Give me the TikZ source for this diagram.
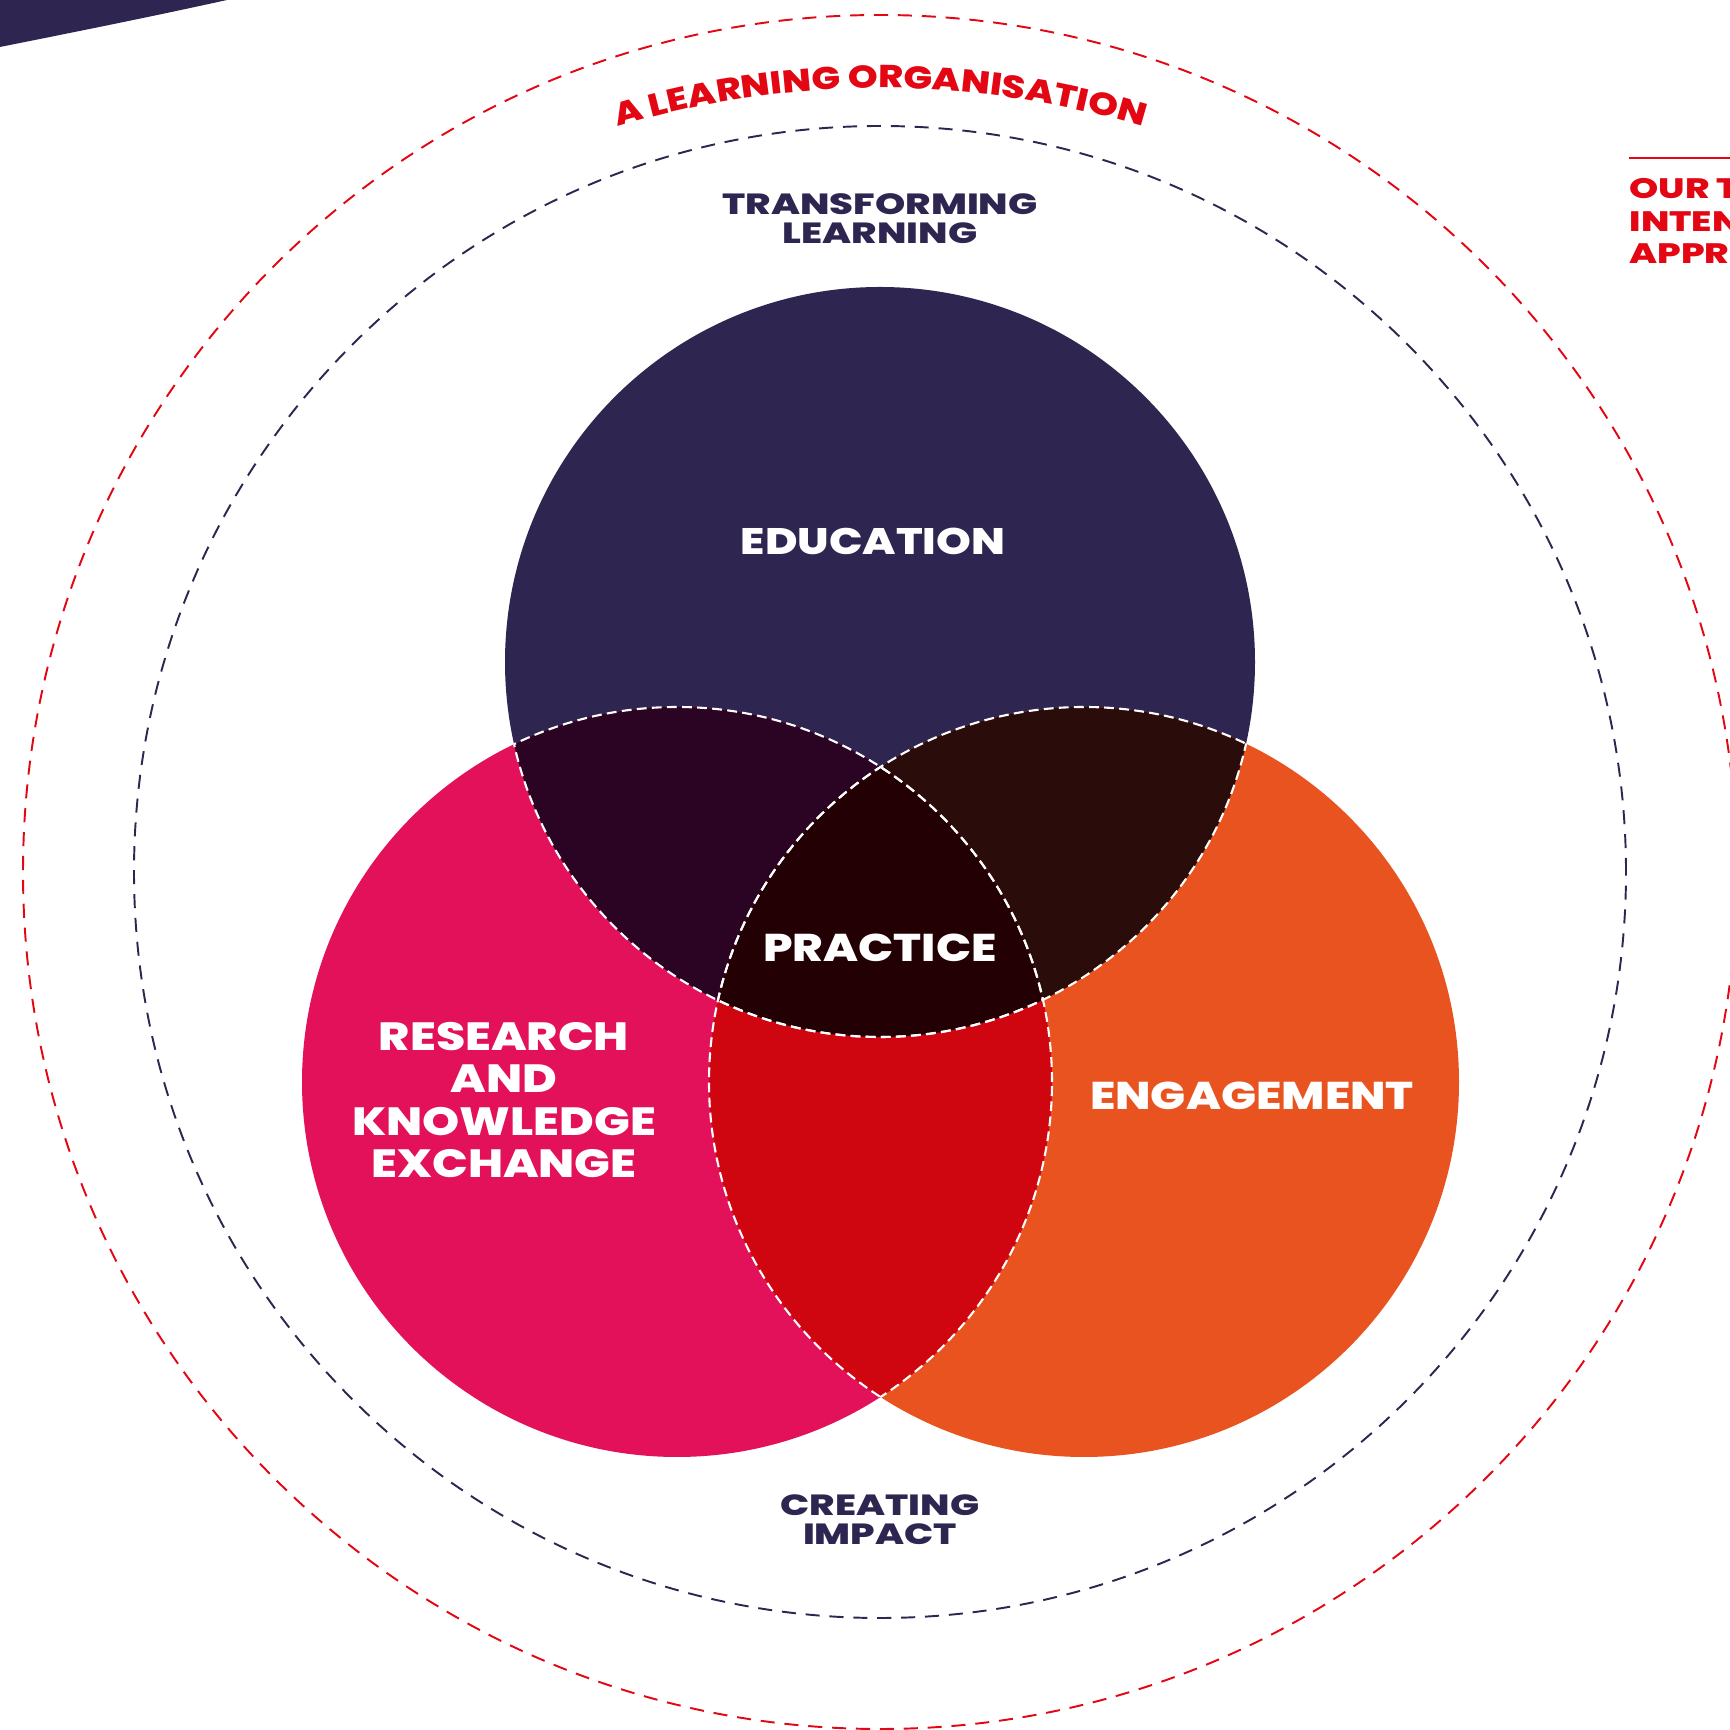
\documentclass[tikz,border=0pt]{standalone}
\usepackage{fontspec}
\usetikzlibrary{decorations.text}
\newfontfamily\widefont{Poppins ExtraBold}[FakeStretch=1.2]
\newfontfamily\widerfont{Poppins ExtraBold}[FakeStretch=1.32]
\definecolor{navy}{HTML}{2E2651}
\definecolor{pinkc}{HTML}{E3105A}
\definecolor{orangec}{HTML}{E8531F}
\definecolor{redc}{HTML}{E30613}
\definecolor{redlap}{HTML}{CF0510}
\definecolor{purlap}{HTML}{2B0323}
\definecolor{brnlap}{HTML}{2A0D0A}
\definecolor{midlap}{HTML}{220003}

\begin{document}
\begin{tikzpicture}[x=0.1mm,y=0.1mm,
    bigtxt/.style={text=white,font=\widefont\fontsize{11}{12.1}\selectfont,align=center,inner sep=0pt},
    smalltxt/.style={text=navy,font=\widerfont\fontsize{8.3}{8.2}\selectfont,align=center,inner sep=0pt},
    sidetxt/.style={text=redc,font=\widerfont\fontsize{8}{9.2}\selectfont,align=left,inner sep=0pt},
    wdash/.style={white,line width=0.6pt,dash pattern=on 2.8pt off 1.5pt},
    ring/.style={line width=0.55pt,dash pattern=on 4pt off 2.8pt}]
    \useasboundingbox (0,0) rectangle (1729,1730);
    \coordinate (mid) at (880,858);
    \coordinate (arcmid) at (880,737);
    \coordinate (e) at (880,1068);
    \coordinate (r) at (677,648);
    \coordinate (g) at (1084,648);

    \fill[navy] (-5,1735) -- (227,1735) -- (227,1730) .. controls (150,1713) and (75,1698) .. (-5,1682) -- cycle;

    \draw[ring,redc] (mid) circle[radius=857];
    \draw[ring,navy] (mid) circle[radius=746];

    \fill[navy] (e) circle[radius=375];
    \fill[pinkc] (r) circle[radius=375];
    \fill[orangec] (g) circle[radius=375];
    \begin{scope}\clip (e) circle[radius=375]; \fill[purlap] (r) circle[radius=375]; \end{scope}
    \begin{scope}\clip (e) circle[radius=375]; \fill[brnlap] (g) circle[radius=375]; \end{scope}
    \begin{scope}\clip (r) circle[radius=375]; \fill[redlap] (g) circle[radius=375]; \end{scope}
    \begin{scope}\clip (e) circle[radius=375]; \clip (r) circle[radius=375]; \fill[midlap] (g) circle[radius=375]; \end{scope}

    \begin{scope}\clip (e) circle[radius=375]; \draw[wdash] (r) circle[radius=375] (g) circle[radius=375]; \end{scope}
    \begin{scope}\clip (r) circle[radius=375]; \draw[wdash] (e) circle[radius=375] (g) circle[radius=375]; \end{scope}
    \begin{scope}\clip (g) circle[radius=375]; \draw[wdash] (e) circle[radius=375] (r) circle[radius=375]; \end{scope}

    \path[decorate,decoration={text along path,text align=center,text color=redc,
        text={|\widefont\fontsize{9.0}{10}\selectfont|A LEARNING ORGANISATION}}]
        ([shift={(110:905)}]arcmid) arc[start angle=110,end angle=70,radius=905];

    \node[smalltxt] (tl) at (880,1511) {TRANSFORMING\\LEARNING};
    \node[bigtxt,font=\widefont\fontsize{10.5}{11}\selectfont] (edu) at (873,1189) {EDUCATION};
    \node[bigtxt] (prac) at (880,782) {PRACTICE};
    \node[bigtxt,font=\widefont\fontsize{11.2}{12.1}\selectfont] (rke) at (504,630) {RESEARCH\\AND\\KNOWLEDGE\\EXCHANGE};
    \node[bigtxt] (eng) at (1252,634) {ENGAGEMENT};
    \node[smalltxt] (ci) at (880,210) {CREATING\\IMPACT};

    \coordinate (rulea) at (1629,1572);
    \coordinate (ruleb) at (1740,1572);
    \draw[redc,line width=0.6pt] (rulea) -- (ruleb);
    \node[sidetxt,anchor=west] (our) at (1629,1509) {OUR T\\INTEN\\APPR};
\end{tikzpicture}
\end{document}
